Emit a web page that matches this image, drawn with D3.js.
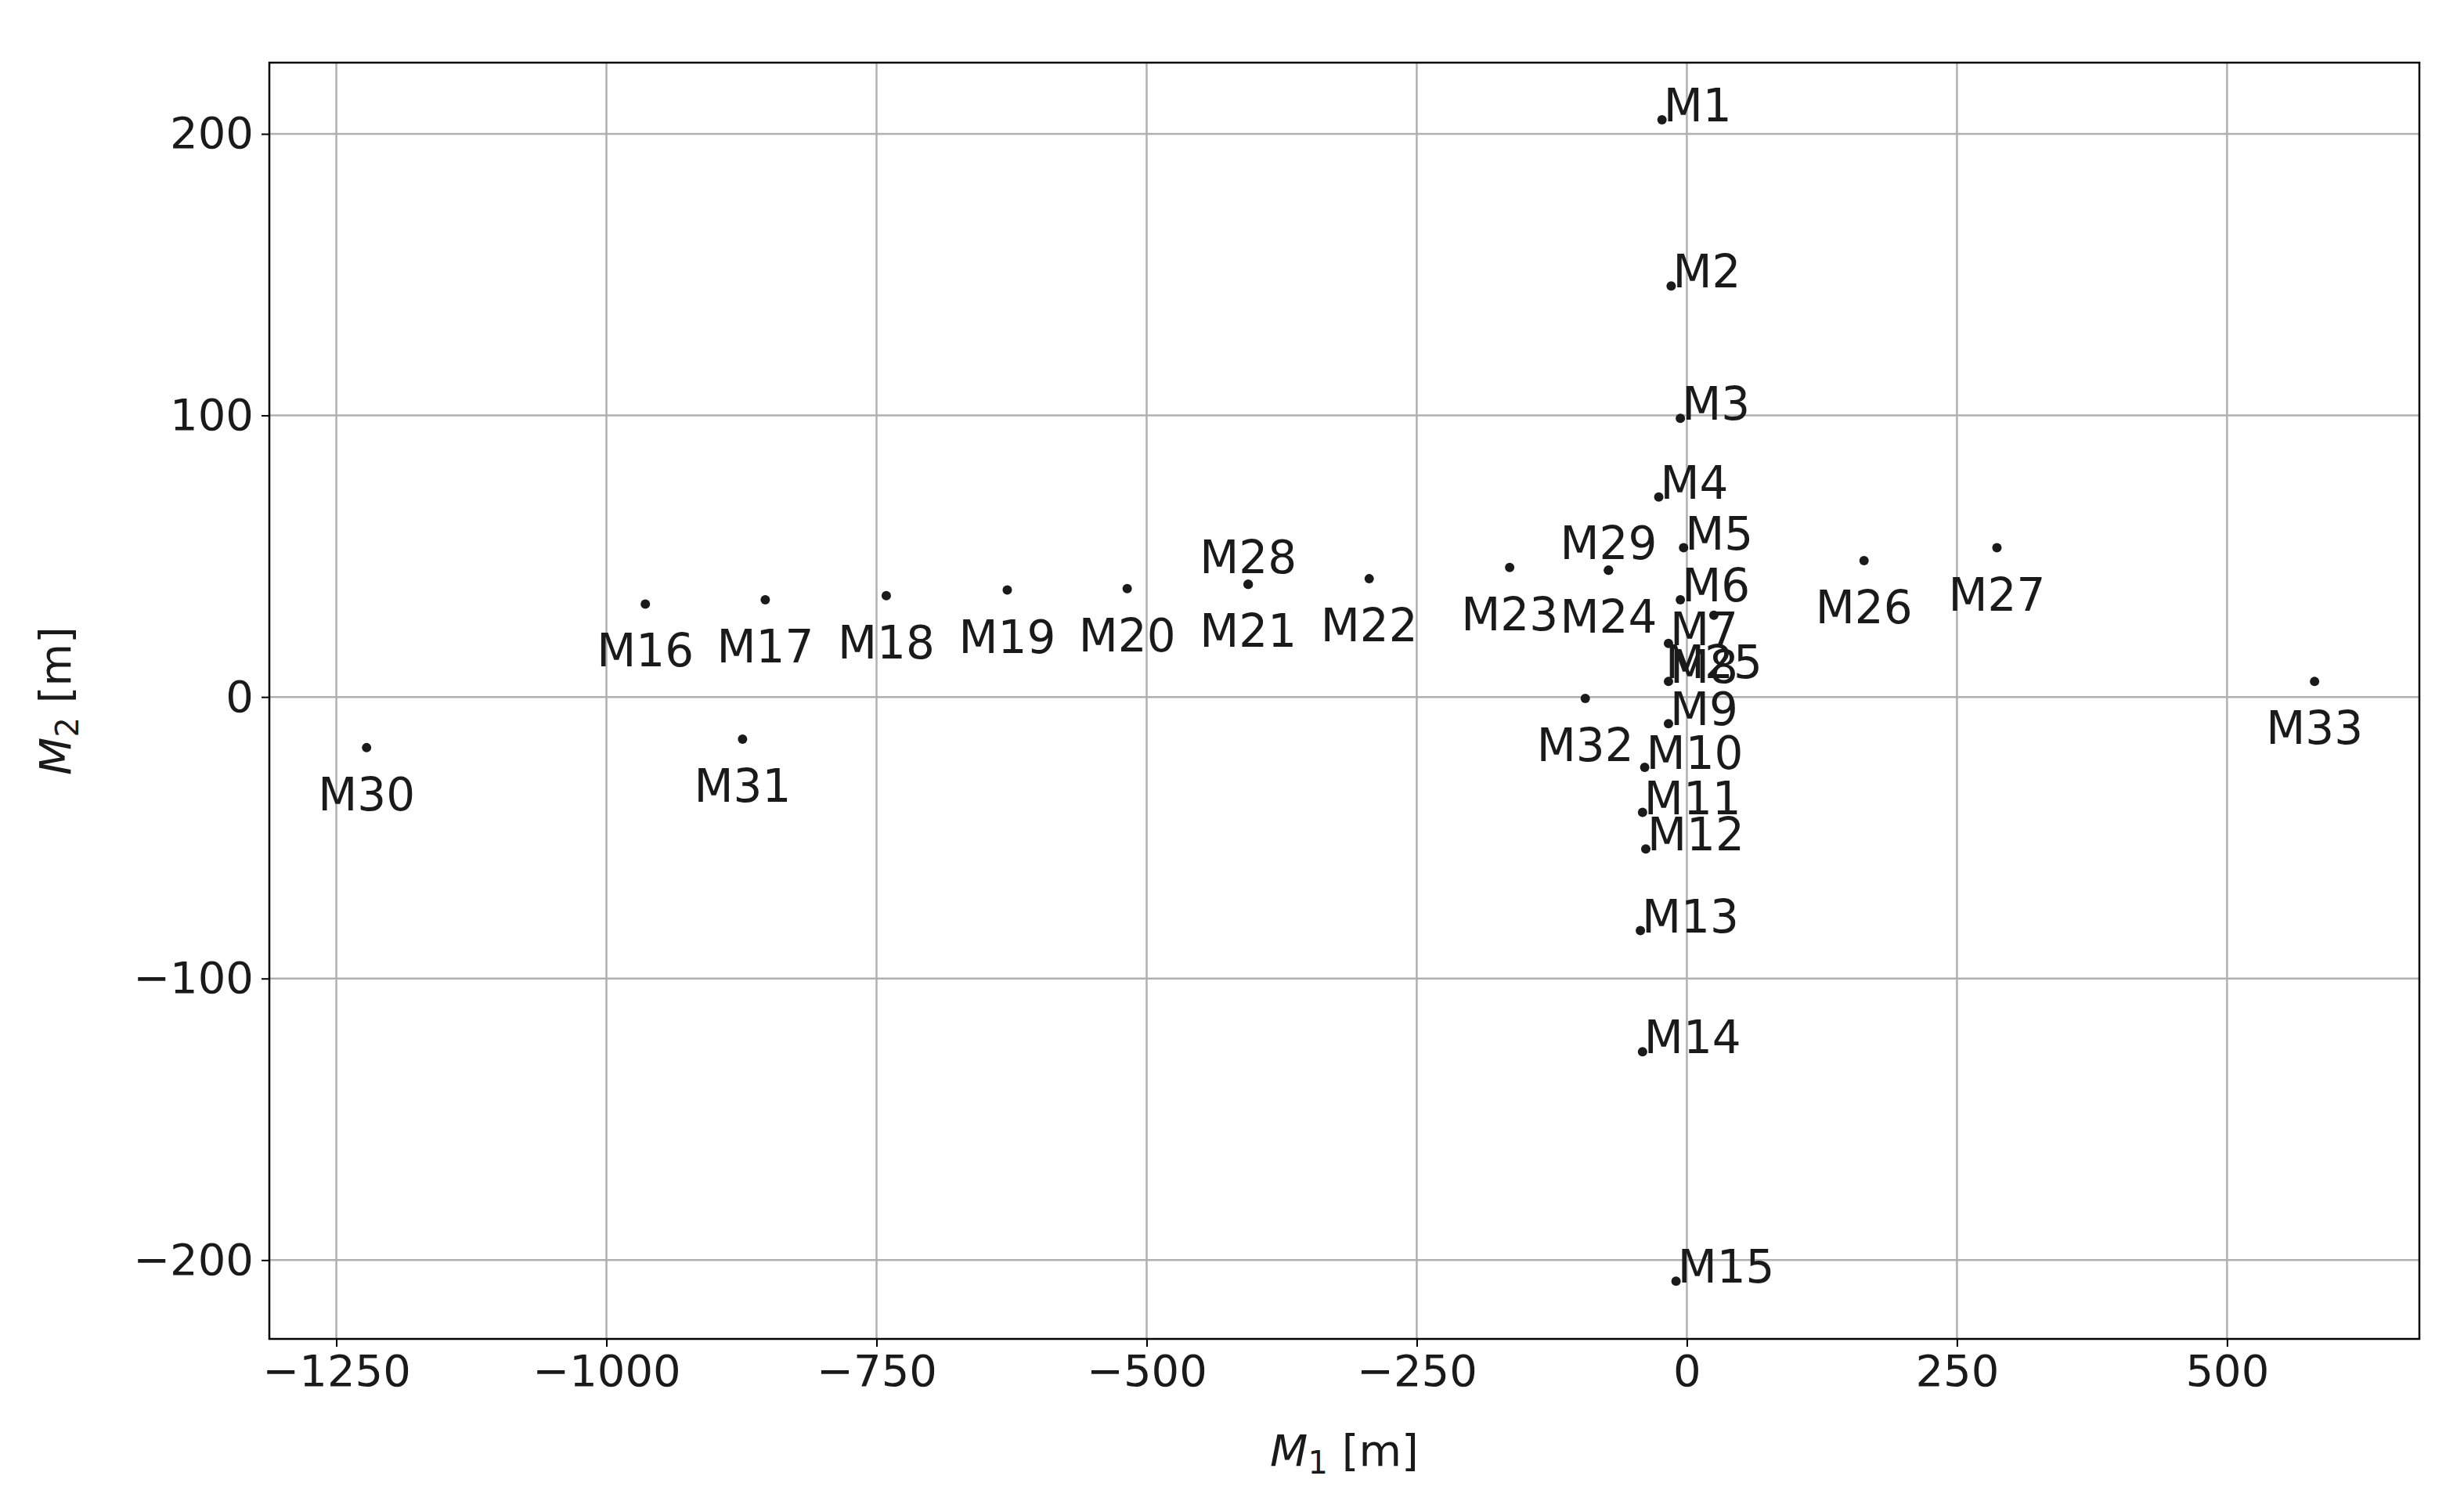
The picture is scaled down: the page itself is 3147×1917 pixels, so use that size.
<!DOCTYPE html><html><head><meta charset="utf-8"><script src="https://cdn.jsdelivr.net/npm/d3@7"></script>
<style>body{margin:0;background:#fff}text{font-family:"DejaVu Sans",sans-serif;fill:#1a1a1a}</style></head><body><svg id="c" width="3147" height="1917"></svg><script>
const names=["M1","M2","M3","M4","M5","M6","M7","M8","M9","M10","M11","M12","M13","M14","M15","M16","M17","M18","M19","M20","M21","M22","M23","M24","M25","M26","M27","M28","M29","M30","M31","M32","M33"];
const xs=[-23,-14.5,-6,-26,-3,-6,-17,-17,-17,-39,-41,-38,-43,-41,-10,-964,-853,-741,-629,-518,-406,-294,-164,-72.5,25,164,287,-406,-72.5,-1222,-874,-94,581];
const ys=[205,146,99,71,53,34.5,19,5.5,-9.5,-25,-41,-54,-83,-126,-207.5,33,34.5,36,38,38.5,40,42,46,45,29,48.4,53,40,45,-18,-15,-0.5,5.5];
const pos=["r","r","r","r","r","r","r","r","r","r","r","r","r","r","r","b","b","b","b","b","b","b","b","b","b","b","b","a","a","b","b","b","b"];
const xTicks=[-1250,-1000,-750,-500,-250,0,250,500];
const yTicks=[-200,-100,0,100,200];
const L=344,R=3090,T=80,B=1710;
const x=d3.scaleLinear().domain([-1312,678]).range([L,R]);
const y=d3.scaleLinear().domain([-228,225.3]).range([B,T]);
const svg=d3.select("#c");
const g=svg.append("g");
g.selectAll(".gx").data(xTicks).join("line").attr("x1",d=>x(d)).attr("x2",d=>x(d)).attr("y1",T).attr("y2",B).attr("stroke","#b0b0b0").attr("stroke-width",2.5);
g.selectAll(".gy").data(yTicks).join("line").attr("y1",d=>y(d)).attr("y2",d=>y(d)).attr("x1",L).attr("x2",R).attr("stroke","#b0b0b0").attr("stroke-width",2.5);
const ax=svg.append("g").attr("transform",`translate(0,${B})`).call(d3.axisBottom(x).tickValues(xTicks).tickSize(10).tickPadding(10).tickFormat(d=>d<0?"\u2212"+(-d):d));
const ay=svg.append("g").attr("transform",`translate(${L},0)`).call(d3.axisLeft(y).tickValues(yTicks).tickSize(10).tickPadding(10).tickFormat(d=>d<0?"\u2212"+(-d):d));
[ax,ay].forEach(a=>{a.select(".domain").remove();a.selectAll("line").attr("stroke","#000").attr("stroke-width",2);a.selectAll("text").attr("font-size",56).attr("font-family","DejaVu Sans").attr("fill","#1a1a1a");});
svg.append("rect").attr("x",L).attr("y",T).attr("width",R-L).attr("height",B-T).attr("fill","none").attr("stroke","#000").attr("stroke-width",2.5);
const idx=d3.range(names.length);
svg.selectAll(".pt").data(idx).join("circle").attr("cx",i=>x(xs[i])).attr("cy",i=>y(ys[i])).attr("r",6).attr("fill","#1a1a1a");
svg.selectAll(".lb").data(idx).join("text").attr("font-size",58)
 .attr("x",i=>x(xs[i])+(pos[i]=="r"?2:0))
 .attr("y",i=>y(ys[i])+(pos[i]=="r"?2:pos[i]=="b"?80:-14))
 .attr("text-anchor",i=>pos[i]=="r"?"start":"middle").text(i=>names[i]);
const xl=svg.append("text").attr("x",(L+R)/2).attr("y",1872).attr("text-anchor","middle").attr("font-size",56);
xl.append("tspan").attr("font-style","italic").text("M");xl.append("tspan").attr("font-size",40).attr("dy",10).text("1");xl.append("tspan").attr("dy",-10).text(" [m]");
const yl=svg.append("text").attr("transform",`translate(90,${(T+B)/2}) rotate(-90)`).attr("text-anchor","middle").attr("font-size",56);
yl.append("tspan").attr("font-style","italic").text("M");yl.append("tspan").attr("font-size",40).attr("dy",10).text("2");yl.append("tspan").attr("dy",-10).text(" [m]");
</script></body></html>
